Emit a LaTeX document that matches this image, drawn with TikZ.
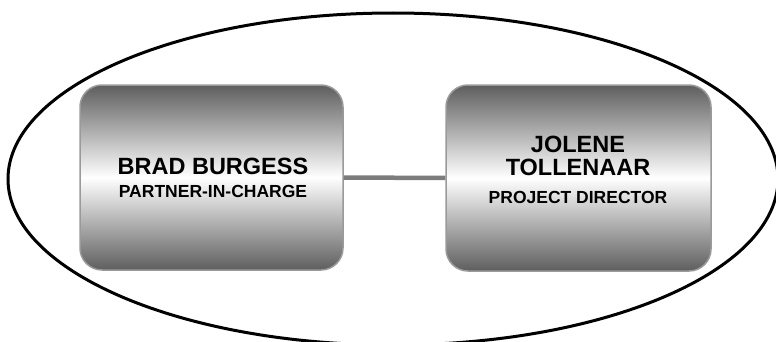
\documentclass[tikz,border=0pt]{standalone}
\usepackage{fontspec}
\setmainfont{Liberation Sans}
\usepackage{tikz}
\usetikzlibrary{positioning,shapes.geometric}
\definecolor{cardedge}{HTML}{9A9A9A}
\definecolor{carddark}{HTML}{5E5E5E}
\definecolor{linkgray}{HTML}{7C7C7C}

\begin{document}
\begin{tikzpicture}[
  x=1pt, y=1pt,
  card/.style={rectangle, draw=cardedge, line width=1.5pt, rounded corners=22pt,
               top color=carddark, bottom color=carddark, middle color=white},
  cardtext/.style={align=center, font=\fontsize{23.5}{23.5}\bfseries\selectfont, text=black},
  titlefont/.style={},
  link/.style={line width=4.5pt, linkgray},
]
\useasboundingbox (0,0) rectangle (776,341);

% team outline
\node[ellipse, draw=black, line width=3pt, inner sep=0pt,
      minimum width=770, minimum height=332] (team) at (393,162) {};

\node[card, minimum width=263, minimum height=185] (brad) at (211.5,163.5) {};
\node[card, minimum width=265, minimum height=186] (jolene) at (578.5,163) {};

\draw[link] (brad.east) -- (jolene.west);

\node[cardtext] (bradtext) at (213,163)
  {BRAD BURGESS\\{\fontsize{17.5}{23.5}\selectfont PARTNER-IN-CHARGE}};
\node[cardtext] (jolenetext) at (578,171)
  {JOLENE\\TOLLENAAR\\[4.5pt]{\fontsize{17.5}{23.5}\selectfont PROJECT DIRECTOR}};

\end{tikzpicture}
\end{document}
